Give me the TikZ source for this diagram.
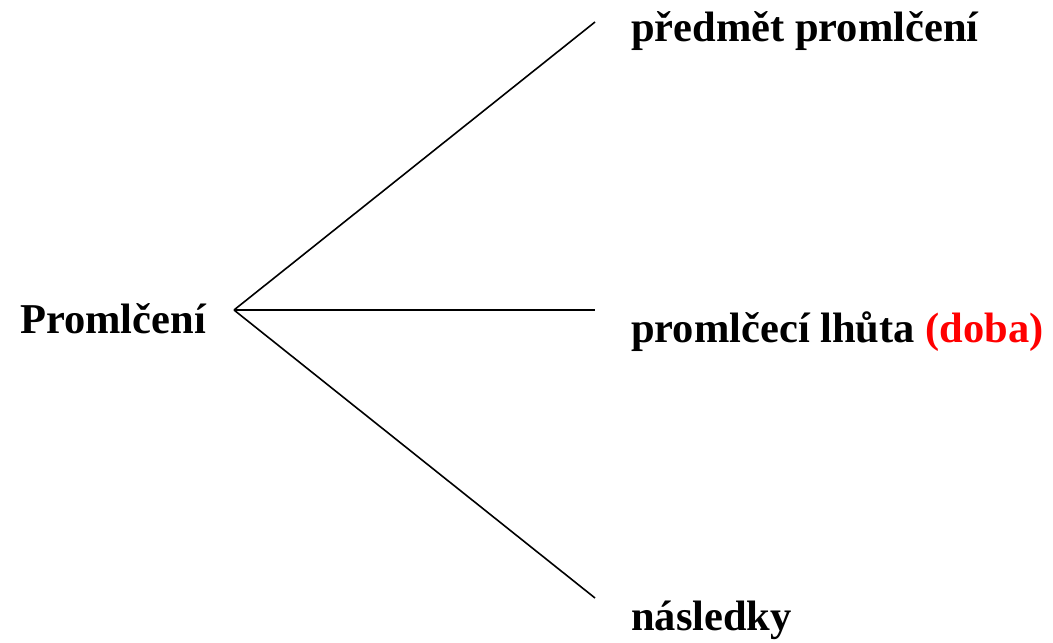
\documentclass[tikz,border=0pt]{standalone}
\usepackage{fontspec}
\setmainfont{Liberation Serif}
\begin{document}
\begin{tikzpicture}[x=1pt,y=-1pt,
  lbl/.style={anchor=base west,inner sep=0pt,font=\fontsize{42.5}{48}\selectfont\bfseries},
  conn/.style={line width=1.6pt}]
\useasboundingbox (0,0) rectangle (1053,643);
\node[lbl] (root) at (20,333) {Promlčení};
\node[lbl] (a) at (631,41) {předmět promlčení};
\node[lbl] (b) at (631,342) {promlčecí lhůta \textcolor{red}{(doba)}};
\node[lbl] (c) at (631,630) {následky};
\coordinate (v) at (234,310);
\coordinate (ea) at (595,22);
\coordinate (eb) at (595,310);
\coordinate (ec) at (595,598);
\draw[conn] (v) -- (ea);
\draw[conn] (v) -- (eb);
\draw[conn] (v) -- (ec);
\end{tikzpicture}
\end{document}
